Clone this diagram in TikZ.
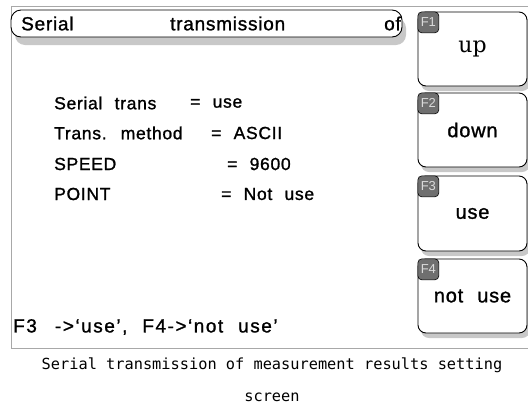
\documentclass[tikz,border=0pt]{standalone}
\usepackage{xcolor}
\usepackage{fontspec}
\usepackage{tikz}
\usetikzlibrary{shadows}

\setmainfont{Liberation Sans}[LetterSpace=4,WordSpace=2.2,FakeBold=1.2]
\newfontfamily\upfont{DejaVu Serif}
\newfontfamily\capfont{DejaVu Sans Mono}
\newfontfamily\tagfont{Liberation Sans}

\definecolor{framegray}{HTML}{A8A8A8}
\definecolor{shadegray}{HTML}{C8C8C8}
\definecolor{tabgray}{HTML}{6F6F6F}
\definecolor{tablabel}{HTML}{DADADA}

\begin{document}
\begin{tikzpicture}[x=1pt,y=-1pt,
  lcd/.style={anchor=west,inner sep=0pt,font=\fontsize{19}{22}\selectfont},
  param/.style={anchor=west,inner sep=0pt,font=\fontsize{17.5}{20}\selectfont},
  softkey/.style={draw=black,fill=white,line width=0.9pt,rounded corners=8pt,
    minimum width=109pt,minimum height=74pt,inner sep=0pt,
    font=\fontsize{20}{22}\selectfont,
    drop shadow={fill=shadegray,opacity=1,shadow xshift=3pt,shadow yshift=-5pt}},
  keytag/.style={draw=black,fill=tabgray,line width=0.6pt,rounded corners=4pt,
    minimum size=21pt,inner sep=0pt,anchor=north west,
    text=tablabel,font=\tagfont\fontsize{13}{13}\selectfont}]

\useasboundingbox (0,0) rectangle (528,405);

% Moldura do visor
\draw[framegray,line width=0.8pt] (528,6) -- (11,6) -- (11,348) -- (528,348);

% Barra de titulo
\node[draw=black,fill=white,line width=0.9pt,rounded corners=10pt,
  minimum width=391pt,minimum height=27pt,inner sep=0pt,
  drop shadow={fill=shadegray,opacity=1,shadow xshift=4pt,shadow yshift=-8pt}]
  (title) at (206.5,23.5) {};
\node[lcd] (tserial) at (21,23.5) {Serial};
\node[lcd] (ttrans) at (170,23.5) {transmission};
\node[lcd] (tof) at (384,23.5) {of};

% Parametros
\node[param] (p1) at (54,103) {Serial trans};
\node[param] (v1) at (190,103) {= use};
\node[param] (p2) at (54,133) {Trans. method};
\node[param] (v2) at (211,133) {= ASCII};
\node[param] (p3) at (54,164) {SPEED};
\node[param] (v3) at (227,164) {= 9600};
\node[param] (p4) at (54,194) {POINT};
\node[param] (v4) at (221,194) {= Not use};

% Linha de ajuda
\node[lcd,font=\fontsize{19}{22}\selectfont\addfontfeature{LetterSpace=8}] (hint) at (13,327)
  {F3 \,->`use', F4->`not use'};

% Teclas de funcao
\node[softkey] (f1) at (472.5,49) {\upfont\fontsize{22}{22}\selectfont up};
\node[softkey] (f2) at (472.5,130) {down};
\node[softkey,minimum height=75pt] (f3) at (472.5,213.5) {use};
\node[softkey] (f4) at (472.5,296) {not use};

\node[keytag] (k1) at (f1.north west) {F1};
\node[keytag] (k2) at (f2.north west) {F2};
\node[keytag] (k3) at (f3.north west) {F3};
\node[keytag] (k4) at (f4.north west) {F4};

% Legenda
\node[font=\capfont\fontsize{15.3}{15}\selectfont] (cap1) at (272,365)
  {Serial transmission of measurement results setting};
\node[font=\capfont\fontsize{15.3}{15}\selectfont] (cap2) at (272,397) {screen};

\end{tikzpicture}
\end{document}
